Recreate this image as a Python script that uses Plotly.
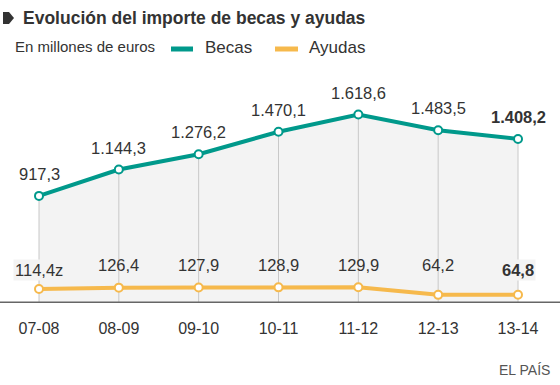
import plotly.graph_objects as go

categories = ["07-08", "08-09", "09-10", "10-11", "11-12", "12-13", "13-14"]
becas = [917.3, 1144.3, 1276.2, 1470.1, 1618.6, 1483.5, 1408.2]
ayudas = [114.4, 126.4, 127.9, 128.9, 129.9, 64.2, 64.8]
becas_labels = ["917,3", "1.144,3", "1.276,2", "1.470,1", "1.618,6", "1.483,5", "<b>1.408,2</b>"]
ayudas_labels = ["114,4z", "126,4", "127,9", "128,9", "129,9", "64,2", "<b>64,8</b>"]

TEAL = "#00998b"
ORANGE = "#f6b94c"
TXT = "#333333"
FONT = "Liberation Sans, Arial, sans-serif"

x = list(range(len(categories)))

fig = go.Figure()

# gray area below Becas
fig.add_trace(go.Scatter(x=x, y=becas, mode="lines", line=dict(width=0, color="rgba(0,0,0,0)"),
                         fill="tozeroy", fillcolor="#f3f3f3", hoverinfo="skip", showlegend=False))

# vertical drop lines
gx, gy = [], []
for i, v in zip(x, becas):
    gx += [i, i, None]
    gy += [0, v, None]
fig.add_trace(go.Scatter(x=gx, y=gy, mode="lines", line=dict(width=1, color="#c8c8c8"),
                         hoverinfo="skip", showlegend=False))

marker_common = dict(size=8, color="white")
fig.add_trace(go.Scatter(x=x, y=becas, mode="lines+markers", name="Becas",
                         line=dict(width=4, color=TEAL),
                         marker=dict(**marker_common, line=dict(width=2, color=TEAL)),
                         showlegend=False))
fig.add_trace(go.Scatter(x=x, y=ayudas, mode="lines+markers", name="Ayudas",
                         line=dict(width=4, color=ORANGE),
                         marker=dict(**marker_common, line=dict(width=2, color=ORANGE)),
                         showlegend=False))

annotations = []
for i, (v, lab) in enumerate(zip(becas, becas_labels)):
    annotations.append(dict(x=i, y=v, text=lab, showarrow=False, yshift=22,
                            font=dict(size=16.5, color=TXT, family=FONT)))
for i, (v, lab) in enumerate(zip(ayudas, ayudas_labels)):
    edge = i == 0 or i == len(ayudas) - 1
    annotations.append(dict(x=i, y=0, text=lab, showarrow=False, yshift=32 if edge else 37,
                            font=dict(size=16.5, color=TXT, family=FONT),
                            bgcolor="#f3f3f3" if edge else None))

# title, subtitle, legend, source
annotations += [
    dict(xref="paper", yref="paper", x=21 / 560, y=1 + (60 - 18) / 250, xanchor="left", yanchor="middle",
         text="<b>Evolución del importe de becas y ayudas</b>", showarrow=False,
         font=dict(size=17.5, color=TXT, family=FONT)),
    dict(xref="paper", yref="paper", x=13 / 560, y=1 + (60 - 47) / 250, xanchor="left", yanchor="middle",
         text="En millones de euros", showarrow=False, font=dict(size=15, color=TXT, family=FONT)),
    dict(xref="paper", yref="paper", x=203 / 560, y=1 + (60 - 48) / 250, xanchor="left", yanchor="middle",
         text="Becas", showarrow=False, font=dict(size=17, color=TXT, family=FONT)),
    dict(xref="paper", yref="paper", x=307 / 560, y=1 + (60 - 48) / 250, xanchor="left", yanchor="middle",
         text="Ayudas", showarrow=False, font=dict(size=17, color=TXT, family=FONT)),
    dict(xref="paper", yref="paper", x=552 / 560, y=-(370 - 310) / 250, xanchor="right", yanchor="middle",
         text="EL PAÍS", showarrow=False, font=dict(size=14, color="#555555", family=FONT)),
]

shapes = [
    dict(type="line", xref="paper", yref="y", x0=0, x1=1, y0=0, y1=0, line=dict(color="#666666", width=1.5)),
    dict(type="line", xref="paper", yref="paper", x0=171 / 560, x1=193 / 560,
         y0=1 + (60 - 49) / 250, y1=1 + (60 - 49) / 250, line=dict(color=TEAL, width=5)),
    dict(type="line", xref="paper", yref="paper", x0=275 / 560, x1=298 / 560,
         y0=1 + (60 - 49) / 250, y1=1 + (60 - 49) / 250, line=dict(color=ORANGE, width=5)),
    dict(type="path", xref="paper", yref="paper",
         path="M {a},{b} L {c},{b} L {d},{m} L {c},{t} L {a},{t} Z".format(
             a=3 / 560, c=9 / 560, d=14 / 560,
             b=1 + (60 - 24) / 250, t=1 + (60 - 12) / 250, m=1 + (60 - 18) / 250),
         fillcolor="#333333", line=dict(width=0)),
]

fig.update_layout(
    width=560, height=385,
    margin=dict(l=0, r=0, t=60, b=75),
    paper_bgcolor="white", plot_bgcolor="white",
    annotations=annotations, shapes=shapes,
    xaxis=dict(range=[-0.4885, 6.526], tickmode="array", tickvals=x, ticktext=categories,
               showgrid=False, zeroline=False, showline=False, ticks="outside", ticklen=4,
               tickcolor="rgba(0,0,0,0)", tickfont=dict(size=16, color=TXT, family=FONT)),
    yaxis=dict(range=[-66.4, 2088.8], showgrid=False, zeroline=False, showticklabels=False),
    hovermode=False,
)

fig.write_html("out.html", config={"displayModeBar": False},
               post_script="document.body.style.margin='0';document.body.style.overflow='hidden';")
